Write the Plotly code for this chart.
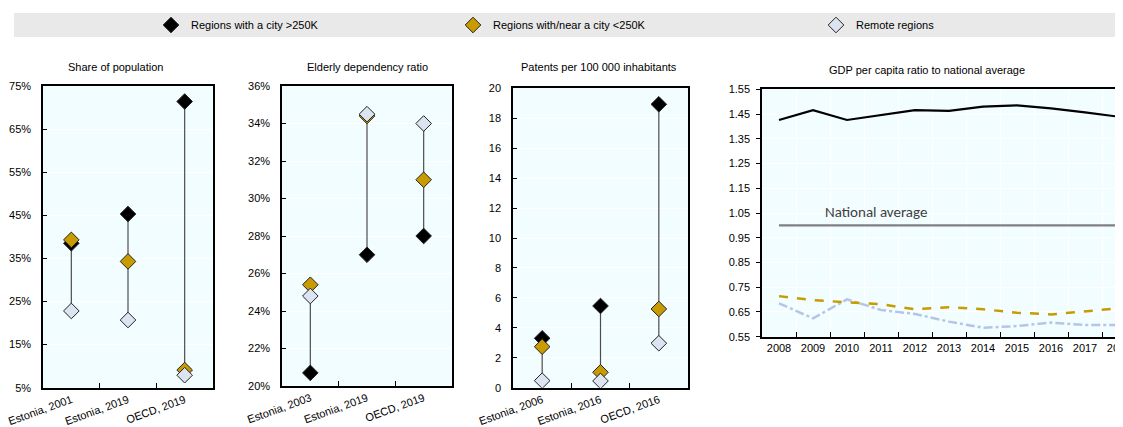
import plotly.graph_objects as go

# The page body adds an 8px offset, so the figure is 8px smaller and all reference
# pixel positions are shifted by -8.
OFF = 8
W, H = 1123 - OFF, 427 - OFF

series_names = ["Regions with a city >250K", "Regions with/near a city <250K", "Remote regions"]

# Panel 1: Share of population (%)
p1_cats = ["Estonia, 2001", "Estonia, 2019", "OECD, 2019"]
p1_large = [38.5, 45.3, 71.4]
p1_near = [39.3, 34.3, 9.1]
p1_remote = [22.8, 20.7, 7.9]

# Panel 2: Elderly dependency ratio (%)
p2_cats = ["Estonia, 2003", "Estonia, 2019", "OECD, 2019"]
p2_large = [20.7, 27.0, 28.0]
p2_near = [25.4, 34.4, 31.0]
p2_remote = [24.8, 34.5, 34.0]

# Panel 3: Patents per 100 000 inhabitants
p3_cats = ["Estonia, 2006", "Estonia, 2016", "OECD, 2016"]
p3_large = [3.3, 5.46, 18.93]
p3_near = [2.74, 1.03, 5.26]
p3_remote = [0.47, 0.45, 2.97]

# Panel 4: GDP per capita ratio to national average
years = ["2008", "2009", "2010", "2011", "2012", "2013", "2014", "2015", "2016", "2017", "2018"]
gdp_large = [1.426, 1.466, 1.426, 1.446, 1.466, 1.463, 1.480, 1.485, 1.473, 1.457, 1.439]
gdp_near = [0.714, 0.698, 0.689, 0.681, 0.661, 0.669, 0.661, 0.647, 0.640, 0.654, 0.665]
gdp_remote = [0.685, 0.624, 0.701, 0.658, 0.642, 0.611, 0.586, 0.593, 0.607, 0.597, 0.597]
national_avg = [1.0] * len(years)

BLACK = "#000000"
GOLD = "#C89B00"
REMOTE_FILL = "#DCE4F2"
REMOTE_LINE = "#B4C6E7"
BG = "#F2FDFF"
FONT = "Liberation Sans, Arial"
FS = 11

fig = go.Figure()

def fx(rx):
    return (rx - OFF) / W

def fy(ry):
    return (H - (ry - OFF)) / H

def px_x(a, b):
    return [max(0.0, fx(a)), min(1.0, fx(b))]

def px_y(top, bottom):
    return [fy(bottom), fy(top)]

panels = [
    (p1_cats, p1_large, p1_near, p1_remote, "x", "y"),
    (p2_cats, p2_large, p2_near, p2_remote, "x2", "y2"),
    (p3_cats, p3_large, p3_near, p3_remote, "x3", "y3"),
]

for pi, (cats, lg, nr, rm, xa, ya) in enumerate(panels):
    for c, a, b, d in zip(cats, lg, nr, rm):
        lo, hi = min(a, b, d), max(a, b, d)
        fig.add_trace(go.Scatter(x=[c, c], y=[lo, hi], mode="lines",
                                 line=dict(color="#4d4d4d", width=1.2),
                                 showlegend=False, hoverinfo="skip", xaxis=xa, yaxis=ya))
    for vals, col, name, lgd in [(lg, BLACK, series_names[0], "legend"),
                                 (nr, GOLD, series_names[1], "legend2"),
                                 (rm, REMOTE_FILL, series_names[2], "legend3")]:
        fig.add_trace(go.Scatter(x=cats, y=vals, mode="markers", name=name,
                                 marker=dict(symbol="diamond", size=12, color=col,
                                             line=dict(color="#222222", width=1)),
                                 showlegend=(pi == 0), legend=lgd, xaxis=xa, yaxis=ya))

fig.add_trace(go.Scatter(x=years, y=national_avg, mode="lines", line=dict(color="#808080", width=2.2),
                         showlegend=False, xaxis="x4", yaxis="y4"))
fig.add_trace(go.Scatter(x=years, y=gdp_remote, mode="lines", line=dict(color=REMOTE_LINE, width=2.5, dash="dashdot"),
                         showlegend=False, xaxis="x4", yaxis="y4"))
fig.add_trace(go.Scatter(x=years, y=gdp_near, mode="lines", line=dict(color=GOLD, width=2.5, dash="dash"),
                         showlegend=False, xaxis="x4", yaxis="y4"))
fig.add_trace(go.Scatter(x=years, y=gdp_large, mode="lines", line=dict(color=BLACK, width=2.2),
                         showlegend=False, xaxis="x4", yaxis="y4"))

tickfont = dict(family=FONT, size=FS, color="#000000")
common_x = dict(type="category", showgrid=False, showline=True, linecolor="#000", linewidth=1.5,
                mirror=True, ticks="inside", ticklen=5, tickcolor="#000", tickson="boundaries",
                tickangle=-20, tickfont=tickfont, fixedrange=True, automargin=False, range=[-0.5, 2.5])
common_y = dict(showgrid=True, gridcolor="#FFFFFF", gridwidth=1, showline=True, linecolor="#000",
                linewidth=1.5, mirror=True, ticks="inside", ticklen=4, tickcolor="#000",
                ticklabelstandoff=8,
                tickfont=tickfont, zeroline=False, fixedrange=True, automargin=False)

layout = dict(
    width=W, height=H, margin=dict(l=0, r=0, t=0, b=0, autoexpand=False),
    paper_bgcolor="#FFFFFF", plot_bgcolor=BG,
    font=dict(family=FONT, size=FS, color="#000000"),
    xaxis=dict(common_x, domain=px_x(43, 213), anchor="y"),
    yaxis=dict(common_y, domain=px_y(86, 387.7), anchor="x", range=[5, 75], tickvals=[5, 15, 25, 35, 45, 55, 65, 75],
               ticktext=["5%", "15%", "25%", "35%", "45%", "55%", "65%", "75%"]),
    xaxis2=dict(common_x, domain=px_x(282, 452), anchor="y2"),
    yaxis2=dict(common_y, domain=px_y(86, 386), anchor="x2", range=[20, 36], tickvals=list(range(20, 37, 2)),
                ticktext=[f"{v}%" for v in range(20, 37, 2)]),
    xaxis3=dict(common_x, domain=px_x(513, 688), anchor="y3"),
    yaxis3=dict(common_y, domain=px_y(88.3, 387.7), anchor="x3", range=[0, 20], tickvals=list(range(0, 21, 2))),
    xaxis4=dict(type="category", showgrid=True, gridcolor="#FFFFFF", showline=True, linecolor="#000", linewidth=1.5,
                mirror=True, ticks="inside", ticklen=5, tickcolor="#000", tickson="boundaries",
                tickangle=0, tickfont=tickfont, domain=px_x(762, 1123), anchor="y4", automargin=False,
                range=[-0.5, (1123 - 762) / 34.0 - 0.5], fixedrange=True),
    yaxis4=dict(common_y, domain=px_y(89.3, 336.7), anchor="x4", range=[0.55, 1.55], ticks="outside",
                ticklabelstandoff=4,
                tickvals=[0.55, 0.65, 0.75, 0.85, 0.95, 1.05, 1.15, 1.25, 1.35, 1.45, 1.55],
                ticktext=["0.55", "0.65", "0.75", "0.85", "0.95", "1.05", "1.15", "1.25", "1.35", "1.45", "1.55"]),
)

leg_common = dict(orientation="h", bgcolor="rgba(0,0,0,0)", font=dict(family=FONT, size=FS, color="#000000"),
                  xanchor="left", yanchor="middle", y=fy(25), itemwidth=30)
layout["legend"] = dict(leg_common, x=fx(177 - 26))
layout["legend2"] = dict(leg_common, x=fx(479 - 26))
layout["legend3"] = dict(leg_common, x=fx(842 - 26))

fig.update_layout(**layout)

fig.add_shape(type="rect", xref="paper", yref="paper", x0=fx(14), x1=fx(1120),
              y0=fy(37), y1=fy(13), fillcolor="#E9E9E9", line=dict(width=0), layer="below")

titles = [("Share of population", 115, 67), ("Elderly dependency ratio", 367, 67),
          ("Patents per 100 000 inhabitants", 599, 67), ("GDP per capita ratio to national average", 927, 70)]
for t, x, y in titles:
    fig.add_annotation(text=t, xref="paper", yref="paper", x=fx(x), y=fy(y), showarrow=False,
                       xanchor="center", yanchor="middle", font=dict(family=FONT, size=FS, color="#000000"))

fig.add_annotation(text="National average", xref="paper", yref="paper", x=fx(876), y=fy(211.7),
                   showarrow=False, xanchor="center", yanchor="middle",
                   font=dict(family="Carlito, Calibri, Liberation Sans, Arial", size=15, color="#404040"))

fig.write_html("out.html")
